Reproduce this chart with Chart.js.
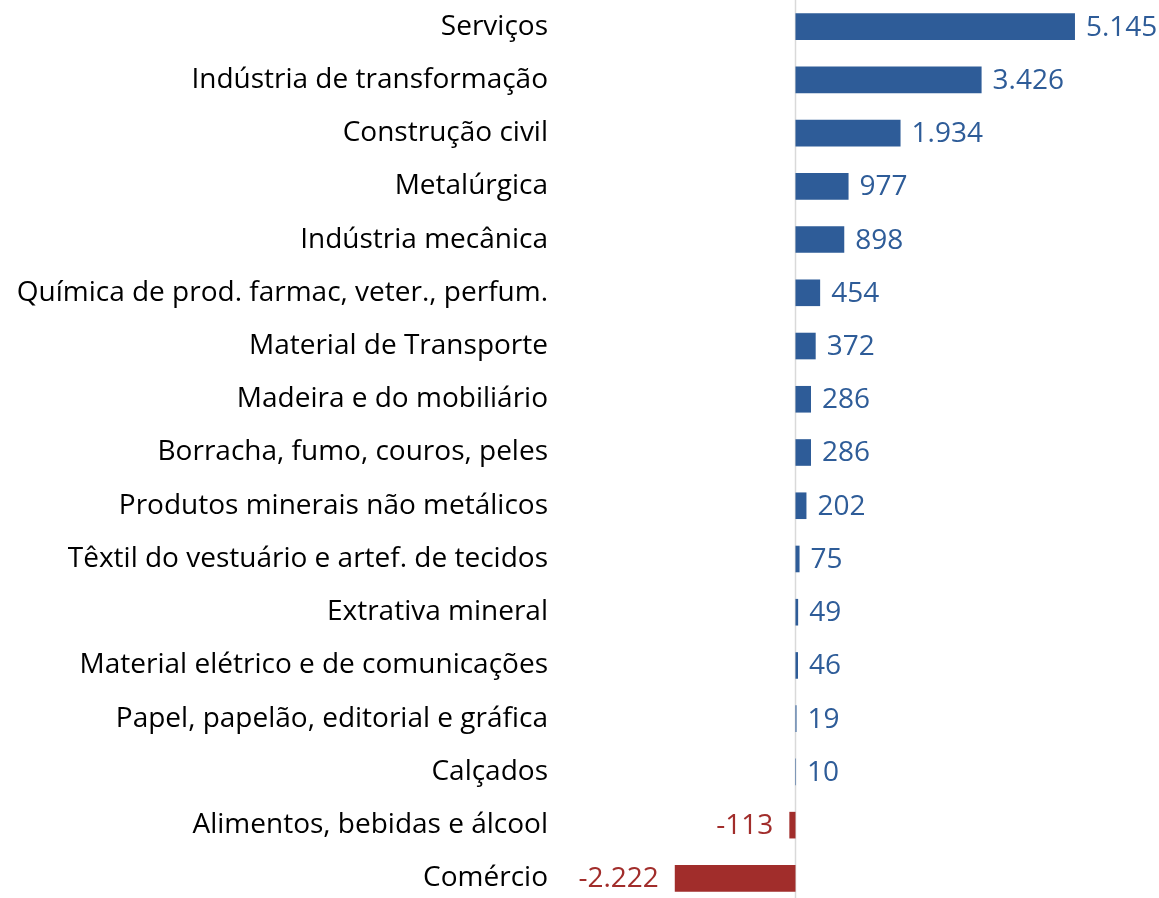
<!DOCTYPE html>
<html>
<head>
<meta charset="utf-8">
<script src="https://cdn.jsdelivr.net/npm/chart.js@4/dist/chart.umd.min.js"></script>
<style>
  html, body { margin: 0; padding: 0; background: #fff; overflow: hidden; }
  #wrap { width: 1159px; height: 905px; position: relative; }
</style>
</head>
<body>
<div id="wrap"><canvas id="chart"></canvas></div>
<script>
const categories = [
  'Serviços',
  'Indústria de transformação',
  'Construção civil',
  'Metalúrgica',
  'Indústria mecânica',
  'Química de prod. farmac, veter., perfum.',
  'Material de Transporte',
  'Madeira e do mobiliário',
  'Borracha, fumo, couros, peles',
  'Produtos minerais não metálicos',
  'Têxtil do vestuário e artef. de tecidos',
  'Extrativa mineral',
  'Material elétrico e de comunicações',
  'Papel, papelão, editorial e gráfica',
  'Calçados',
  'Alimentos, bebidas e álcool',
  'Comércio'
];
const saldo = [5145, 3426, 1934, 977, 898, 454, 372, 286, 286, 202, 75, 49, 46, 19, 10, -113, -2222];

const BLUE = '#2E5C98';
const RED = '#A12D2B';
const FONT = '"Open Sans", Lato, sans-serif';
const FONT_SIZE = 28;

function fmt(v) {
  const s = String(Math.abs(v)).replace(/\B(?=(\d{3})+(?!\d))/g, '.');
  return (v < 0 ? '-' : '') + s;
}

// light grey line at zero, full height
const zeroLine = {
  id: 'zeroLine',
  beforeDatasetsDraw(chart) {
    const ctx = chart.ctx;
    const x = Math.round(chart.scales.x.getPixelForValue(0)) + 0.5;
    ctx.save();
    ctx.strokeStyle = '#d9d9d9';
    ctx.lineWidth = 1.5;
    ctx.beginPath();
    ctx.moveTo(x, 0);
    ctx.lineTo(x, chart.height);
    ctx.stroke();
    ctx.restore();
  }
};

const valueLabels = {
  id: 'valueLabels',
  afterDatasetsDraw(chart) {
    const ctx = chart.ctx;
    const meta = chart.getDatasetMeta(0);
    ctx.save();
    ctx.font = FONT_SIZE + 'px ' + FONT;
    ctx.textBaseline = 'middle';
    meta.data.forEach((bar, i) => {
      const v = saldo[i];
      ctx.fillStyle = v < 0 ? RED : BLUE;
      if (v < 0) {
        ctx.textAlign = 'right';
        ctx.fillText(fmt(v), bar.x - 16, bar.y + 1);
      } else {
        ctx.textAlign = 'left';
        ctx.fillText(fmt(v), bar.x + 11, bar.y + 1);
      }
    });
    ctx.restore();
  }
};

new Chart(document.getElementById('chart'), {
  type: 'bar',
  data: {
    labels: categories,
    datasets: [{
      data: saldo,
      backgroundColor: saldo.map(v => v < 0 ? RED : BLUE),
      borderWidth: 0,
      barPercentage: 0.5,
      categoryPercentage: 1.0
    }]
  },
  options: {
    indexAxis: 'y',
    responsive: true,
    maintainAspectRatio: false,
    animation: false,
    layout: { padding: 0 },
    plugins: {
      legend: { display: false },
      tooltip: { enabled: false }
    },
    scales: {
      x: {
        min: -4335,
        max: 6692,
        ticks: { display: false },
        border: { display: false },
        grid: { display: false, drawTicks: false }
      },
      y: {
        afterFit: s => { s.width = 560; s.paddingTop = 0; s.paddingBottom = 0; },
        border: { display: false },
        grid: { display: false, drawTicks: false },
        ticks: {
          padding: 12,
          color: '#000',
          font: { family: FONT, size: FONT_SIZE }
        }
      }
    }
  },
  plugins: [zeroLine, valueLabels]
});
</script>
</body>
</html>
